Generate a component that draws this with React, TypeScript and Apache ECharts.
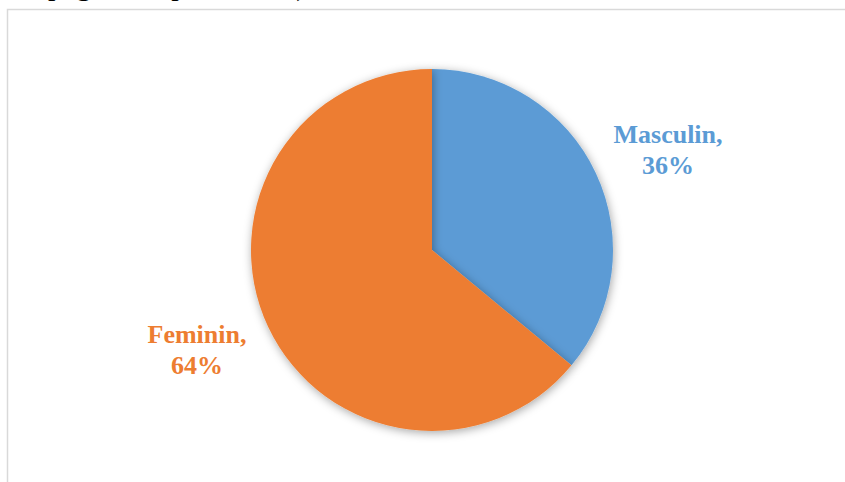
import React, { useEffect, useRef } from "react";
import * as echarts from "echarts";

const categories = ["Masculin", "Feminin"];
const values = [36, 64];
const colors = ["#5B9BD5", "#ED7D31"];
const labelSpots = [
  [668, 150],
  [197, 350],
];
const topText = "pagină de prezentare)";

export default function App() {
  const ref = useRef<HTMLDivElement>(null);
  useEffect(() => {
    const chart = echarts.init(ref.current!, null, { renderer: "svg" });
    chart.setOption({
      animation: false,
      backgroundColor: "#ffffff",
      graphic: [
        {
          type: "rect",
          shape: { x: 7.5, y: 9.5, width: 900, height: 600 },
          style: { fill: "none", stroke: "#d9d9d9", lineWidth: 1.5 },
          silent: true,
        },
        {
          type: "text",
          x: 48,
          y: -1,
          style: {
            text: topText,
            font: "30px 'Liberation Serif'",
            fill: "#000000",
            verticalAlign: "bottom",
            align: "left",
          },
        },
      ],
      series: [
        {
          type: "pie",
          center: [432, 250],
          radius: 181,
          startAngle: 90,
          clockwise: true,
          data: categories.map((c, i) => ({
            name: c,
            value: values[i],
            itemStyle: { color: colors[i] },
            label: { color: colors[i] },
          })),
          itemStyle: {
            shadowBlur: 10,
            shadowColor: "rgba(0,0,0,0.35)",
            shadowOffsetX: 1,
            shadowOffsetY: 2,
          },
          label: {
            show: true,
            position: "outside",
            formatter: (p: any) => `${p.name},\n${p.value}%`,
            fontFamily: "'Liberation Serif'",
            fontWeight: "bold",
            fontSize: 26,
            lineHeight: 31,
            align: "center",
          },
          labelLine: { show: false },
          labelLayout: (params: any) => ({
            x: labelSpots[params.dataIndex][0],
            y: labelSpots[params.dataIndex][1],
            align: "center",
            verticalAlign: "middle",
          }),
          emphasis: { disabled: true },
        },
      ],
    });
    return () => chart.dispose();
  }, []);
  return (
    <div
      ref={ref}
      style={{ position: "fixed", left: 0, top: 0, width: 845, height: 482 }}
    />
  );
}
